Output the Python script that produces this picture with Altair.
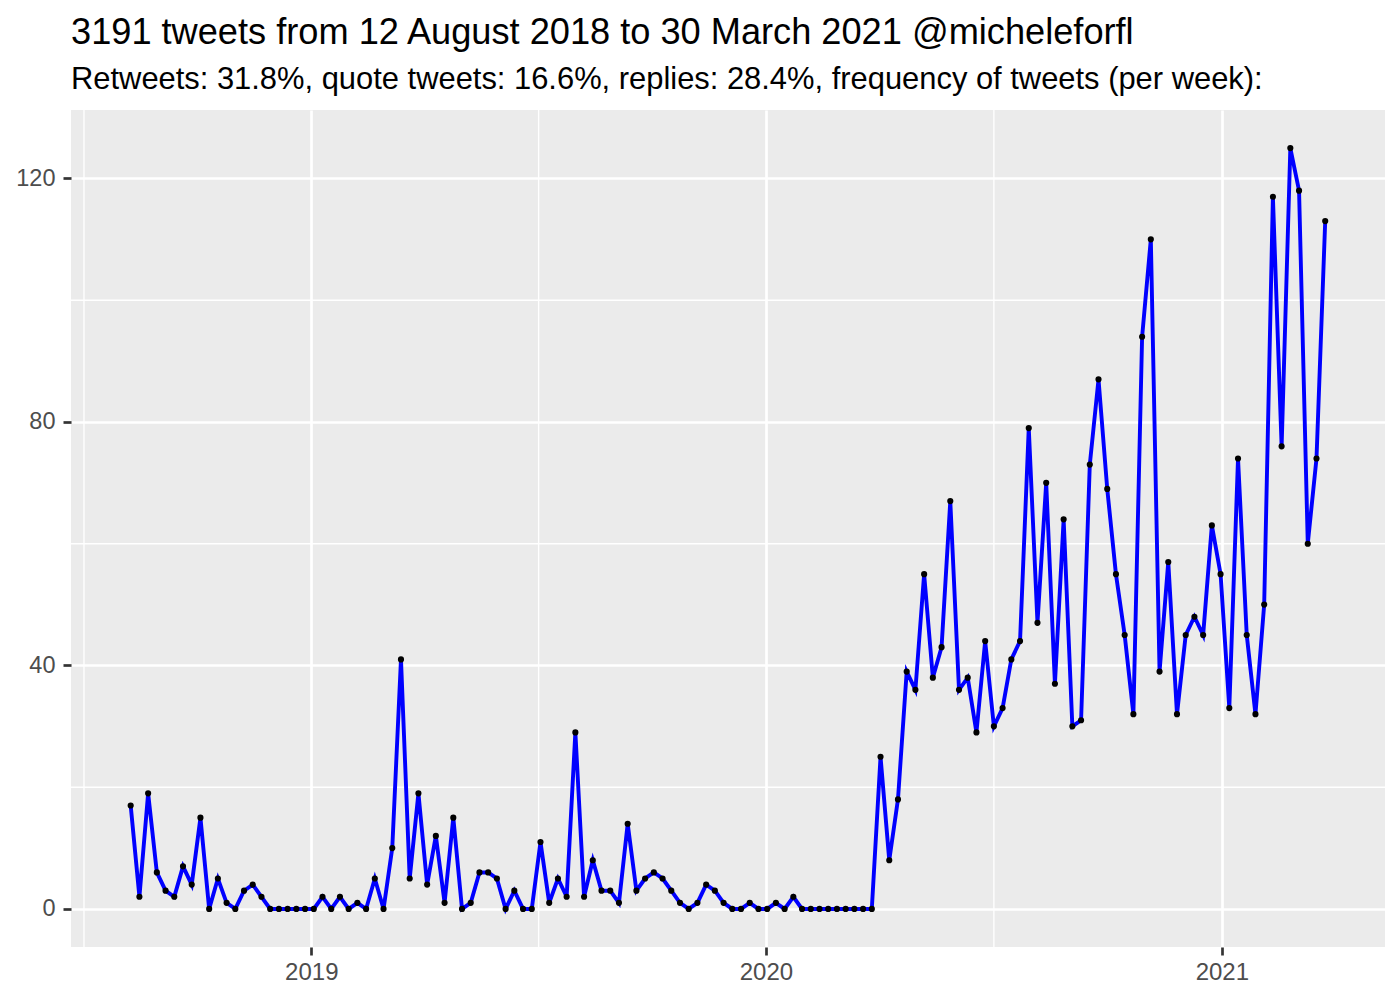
import altair as alt
import pandas as pd

# weekly tweet counts (weeks starting Thursday), 2018-08-09 .. 2021-03-25
start_date = "2018-08-09"
counts = [
    17, 2, 19, 6, 3, 2, 7, 4, 15, 0, 5, 1, 0, 3, 4, 2, 0, 0, 0, 0, 0, 0,
    2, 0, 2, 0, 1, 0, 5, 0, 10, 41, 5, 19, 4, 12, 1, 15, 0, 1, 6, 6, 5, 0, 3, 0, 0, 11,
    1, 5, 2, 29, 2, 8, 3, 3, 1, 14, 3, 5, 6, 5, 3, 1, 0, 1, 4, 3, 1, 0, 0, 1,
    0, 0, 1, 0, 2, 0, 0, 0, 0, 0, 0, 0, 0, 0,
    25, 8, 18, 39, 36, 55, 38, 43, 67, 36,
    38, 29, 44, 30, 33, 41, 44, 79, 47, 70, 37, 64, 30, 31, 73, 87, 69, 55, 45, 32,
    94, 110, 39, 57, 32, 45, 48, 45, 63, 55, 33, 74, 45, 32, 50, 117, 76, 125, 118, 60, 74, 113,
]
dates = pd.date_range(start_date, periods=len(counts), freq="7D").strftime("%Y-%m-%d").tolist()

major_x_years = [2019, 2020, 2021]
minor_x = ["2018-07-02T12:00:00Z", "2019-07-02T12:00:00Z", "2020-07-02T00:00:00Z"]
major_y = [0, 40, 80, 120]
minor_y = [20, 60, 100]

title_text = "3191 tweets from 12 August 2018 to 30 March 2021 @micheleforfl"
subtitle_text = "Retweets: 31.8%, quote tweets: 16.6%, replies: 28.4%, frequency of tweets (per week):"

df = pd.DataFrame({"date": dates, "n": counts})
df_minor_x = pd.DataFrame({"d": minor_x})
df_minor_y = pd.DataFrame({"v": minor_y})

FONT = "Liberation Sans"
x_scale = alt.Scale(type="utc", domain=[
    alt.DateTime(year=2018, month=6, date=22, hours=2, utc=True),
    alt.DateTime(year=2021, month=5, date=12, hours=0, utc=True),
], nice=False)
y_scale = alt.Scale(domain=[-6.25, 131.25], nice=False, zero=False)

x_axis = alt.Axis(
    values=[alt.DateTime(year=y, month=1, date=1, utc=True) for y in major_x_years],
    labelExpr="utcFormat(datum.value, '%Y')",
    title=None, domain=False, grid=True, gridColor="white", gridWidth=2.7,
    ticks=True, tickColor="#333333", tickWidth=2.7, tickSize=8,
    labelColor="#4D4D4D", labelFont=FONT, labelFontSize=24, labelPadding=5,
)
y_axis = alt.Axis(
    values=major_y, title=None, domain=False, grid=True, gridColor="white", gridWidth=2.7,
    ticks=True, tickColor="#333333", tickWidth=2.7, tickSize=8,
    labelColor="#4D4D4D", labelFont=FONT, labelFontSize=23.5, labelPadding=8,
)

minor_v = alt.Chart(df_minor_x).mark_rule(color="white", strokeWidth=1.35).encode(
    x=alt.X("d:T", scale=x_scale, axis=x_axis)
)
minor_h = alt.Chart(df_minor_y).mark_rule(color="white", strokeWidth=1.35).encode(
    y=alt.Y("v:Q", scale=y_scale, axis=y_axis)
)
base = alt.Chart(df).encode(
    x=alt.X("date:T", scale=x_scale, axis=x_axis),
    y=alt.Y("n:Q", scale=y_scale, axis=y_axis),
)
line = base.mark_line(color="#0000FF", strokeWidth=3.9)
points = base.mark_point(filled=True, color="black", size=38, opacity=1)

chart = alt.layer(minor_v, minor_h, line, points).properties(
    width=1314,
    height=837,
    padding={"left": 63, "top": 102, "right": 7, "bottom": 40},
    autosize=alt.AutoSizeParams(type="none"),
    title=alt.TitleParams(
        text=title_text, subtitle=subtitle_text, anchor="start", frame="group",
        font=FONT, fontSize=36.2, fontWeight="normal", color="black",
        subtitleFont=FONT, subtitleFontSize=30.9, subtitleColor="black",
        subtitlePadding=14, offset=14,
    ),
).configure_view(fill="#EBEBEB", stroke="transparent", strokeWidth=0)

chart.save("out.html", embed_options={"renderer": "svg", "actions": False})
